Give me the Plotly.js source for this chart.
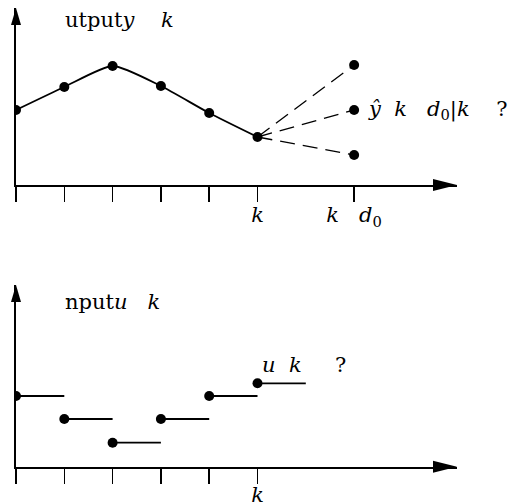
<!DOCTYPE html>
<html>
<head>
<meta charset="utf-8">
<script src="https://cdn.plot.ly/plotly-3.0.1.min.js"></script>
<style>
html,body{margin:0;padding:0;background:#fff;}
#chart{width:514px;height:504px;}
</style>
</head>
<body>
<div id="chart"></div>
<script>
// ---- data ----
const kPast = [0, 1, 2, 3, 4, 5];
const yPast = [7.5, 9.8, 11.9, 9.9, 7.2, 4.8];
const kFuture = 7;
const yPred = [12.0, 7.5, 3.0];
const uK = [0, 1, 2, 3, 4, 5];
const uVals = [7.07, 4.77, 2.4, 4.77, 7.07, 8.34];
const topTickVals = [0, 1, 2, 3, 4, 5, 7];
const topTickText = ['', '', '', '', '', '<i>k</i>', '<i>k</i>\u00a0\u00a0\u00a0<i>d</i><sub>0</sub>'];
const botTickVals = [0, 1, 2, 3, 4, 5];
const botTickText = ['', '', '', '', '', '<i>k</i>'];

const W = 514, H = 504;
const FONT = 'DejaVu Serif, Liberation Serif, serif';
const FS = 21;

const traces = [];
// output curve
traces.push({
  x: kPast, y: yPast, xaxis: 'x', yaxis: 'y', mode: 'lines+markers',
  line: {color: '#000', width: 1.8, shape: 'spline', smoothing: 0.6},
  marker: {color: '#000', size: 10}, hoverinfo: 'skip', showlegend: false
});
// predictions dashed
yPred.forEach(v => {
  traces.push({
    x: [kPast[kPast.length - 1], kFuture], y: [yPast[yPast.length - 1], v],
    xaxis: 'x', yaxis: 'y', mode: 'lines',
    line: {color: '#000', width: 1.3, dash: '15px,8px'}, hoverinfo: 'skip', showlegend: false
  });
});
traces.push({
  x: yPred.map(() => kFuture), y: yPred, xaxis: 'x', yaxis: 'y', mode: 'markers',
  marker: {color: '#000', size: 10}, hoverinfo: 'skip', showlegend: false
});
// input steps
const sx = [], sy = [];
uK.forEach((k, i) => { sx.push(k, k + 1, null); sy.push(uVals[i], uVals[i], null); });
traces.push({
  x: sx, y: sy, xaxis: 'x2', yaxis: 'y2', mode: 'lines',
  line: {color: '#000', width: 1.8}, hoverinfo: 'skip', showlegend: false
});
traces.push({
  x: uK, y: uVals, xaxis: 'x2', yaxis: 'y2', mode: 'markers',
  marker: {color: '#000', size: 10}, hoverinfo: 'skip', showlegend: false
});

const xl = 16 / W, xr = 457 / W;
const axBase = {
  range: [0, 9.13], showgrid: false, zeroline: false, showline: true,
  linecolor: '#000', linewidth: 2, ticks: 'outside', ticklen: 15, tickwidth: 1.5,
  tickcolor: '#000', tickmode: 'array', domain: [xl, xr], ticklabelstandoff: -5,
  tickfont: {family: FONT, size: FS, color: '#000'}, fixedrange: true
};
const ayBase = {
  showgrid: false, zeroline: false, showline: true, linecolor: '#000', linewidth: 2,
  showticklabels: false, ticks: '', fixedrange: true
};

const layout = {
  width: W, height: H, margin: {l: 0, r: 0, t: 0, b: 0},
  paper_bgcolor: '#fff', plot_bgcolor: '#fff', showlegend: false,
  font: {family: FONT, size: FS, color: '#000'},
  xaxis: Object.assign({}, axBase, {anchor: 'y', tickvals: topTickVals, ticktext: topTickText}),
  yaxis: Object.assign({}, ayBase, {anchor: 'x', range: [0, 17.7], domain: [1 - 185 / H, 1 - 8 / H]}),
  xaxis2: Object.assign({}, axBase, {anchor: 'y2', tickvals: botTickVals, ticktext: botTickText, ticklabelstandoff: -7}),
  yaxis2: Object.assign({}, ayBase, {anchor: 'x2', range: [0, 18.17], domain: [1 - 466.7 / H, 1 - 285 / H]}),
  shapes: [],
  annotations: [
    {xref: 'x', yref: 'paper', x: 0.97, y: 1 - 20 / H, xanchor: 'left', yanchor: 'middle', showarrow: false,
     text: 'utput<i>y</i>\u00a0\u00a0\u00a0\u00a0<i>k</i>'},
    {xref: 'x', yref: 'y', x: kFuture, xshift: 12, y: yPred[1], xanchor: 'left', yanchor: 'middle', showarrow: false,
     text: '<i>ŷ</i>\u00a0\u00a0<i>k</i>\u00a0\u00a0\u00a0<i>d</i><sub>0</sub>|<i>k</i>\u00a0\u00a0\u00a0\u00a0?'},
    {xref: 'x2', yref: 'paper', x: 0.97, y: 1 - 302 / H, xanchor: 'left', yanchor: 'middle', showarrow: false,
     text: 'nput<i>u</i>\u00a0\u00a0\u00a0<i>k</i>'},
    {xref: 'x2', yref: 'y2', x: uK[5], xshift: 2, y: uVals[5], yshift: 18, xanchor: 'left', yanchor: 'middle', showarrow: false,
     text: '<i>u</i>\u00a0\u00a0<i>k</i>\u00a0\u00a0\u00a0\u00a0\u00a0?'}
  ]
};

// arrowheads (pixel-sized triangles anchored at axis ends)
['', '2'].forEach(s => {
  layout.shapes.push({
    type: 'path', xref: 'x' + s + ' domain', yref: 'y' + s + ' domain',
    xsizemode: 'pixel', ysizemode: 'pixel', xanchor: 1, yanchor: 0,
    path: 'M 0 0 L -24 6 L -24 -6 Z', fillcolor: '#000', line: {width: 0}
  });
  layout.shapes.push({
    type: 'path', xref: 'x' + s + ' domain', yref: 'y' + s + ' domain',
    xsizemode: 'pixel', ysizemode: 'pixel', xanchor: 0, yanchor: 1,
    path: 'M 0 0 L -5 -17 L 5 -17 Z', fillcolor: '#000', line: {width: 0}
  });
});

Plotly.newPlot('chart', traces, layout, {staticPlot: true, displayModeBar: false});
</script>
</body>
</html>
